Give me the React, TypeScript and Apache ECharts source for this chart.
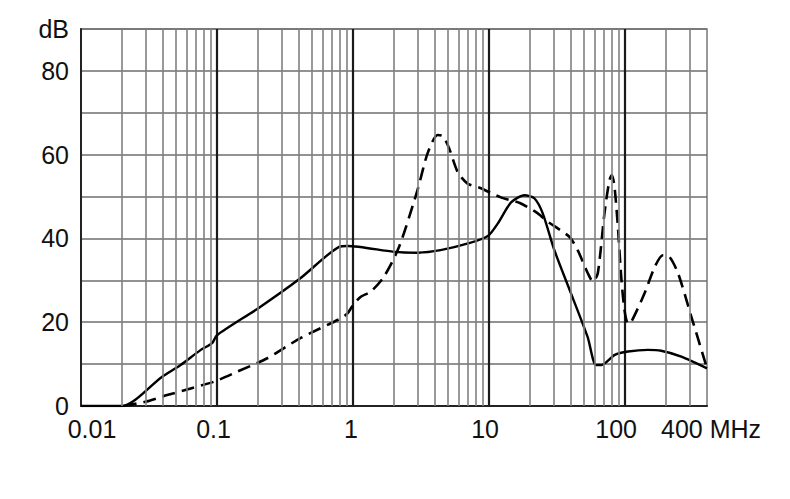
import * as echarts from "echarts";
import { useEffect, useRef } from "react";

// solid curve: frequency (MHz) and level (dB)
const solidFreq = [
  0.01, 0.02, 0.0395, 0.054, 0.076, 0.092, 0.1, 0.2, 0.41, 0.79, 0.91, 2.0,
  3.0, 4.4, 7.0, 9.8, 11.6, 14.5, 18.2, 21.5, 24.8, 30.2, 40, 53, 61, 67, 84,
  105, 147, 184, 259, 400,
];
const solidDb = [
  0, 0, 7.0, 9.8, 13.4, 15.0, 16.9, 23.3, 30.5, 38.0, 38.2, 36.8, 36.6, 37.2,
  38.8, 40.6, 43.6, 48.6, 50.3, 49.6, 46, 37.2, 26.9, 16.5, 9.8, 9.8, 12.2,
  13.0, 13.4, 13.2, 11.8, 9.0,
];

// dashed curve
const dashedFreq = [
  0.0206, 0.0297, 0.043, 0.064, 0.095, 0.141, 0.234, 0.41, 0.81, 0.91, 1.0,
  1.14, 1.35, 1.69, 2.18, 2.98, 3.53, 4.18, 4.58, 5.09, 5.87, 6.95, 8.7, 12.2,
  17, 22.8, 27, 38.9, 44.8, 53.2, 58, 63, 70.5, 76.7, 80, 83.6, 88.5, 93.6, 99,
  105, 111, 139, 165, 190, 212, 245, 307, 400,
];
const dashedDb = [
  0, 1.0, 2.6, 4.2, 5.8, 8.2, 11.4, 16.2, 20.9, 22.1, 24.1, 26.1, 27.3, 30.9,
  38.0, 51.6, 60.3, 64.7, 64.4, 61.5, 55.9, 53.1, 52.0, 49.8, 48.4, 46.0, 44,
  40.4, 37.2, 31.7, 29.7, 31.7, 46, 53.9, 55.1, 52.3, 42.8, 30.9, 22.9, 19.7,
  20.1, 26.9, 33.2, 36.0, 35.6, 31.7, 21.3, 9.0,
];

// axis ends and the extra (non-decade) grid lines
const xMin = 0.01;
const xMax = 400;
const yMax = 90;
const minorSteps = [2, 3, 4, 5, 6, 7, 8, 9];
const decades = [0.01, 0.1, 1, 10, 100];

const minorLines: number[] = [];
decades.forEach((d) =>
  minorSteps.forEach((s) => {
    const v = +(d * s).toPrecision(3);
    if (v < xMax) minorLines.push(v);
  }),
);

const FONT = "'Liberation Sans', Arial, sans-serif";

// per-label nudges so the tick texts sit like the original
const xLabelStyle: Record<string, any> = {
  a: { padding: [0, 0, 0, 22] },
  b: { padding: [0, 7, 0, 0] },
  c: { padding: [0, 4, 0, 0] },
  d: { padding: [0, 8, 0, 0] },
  e: { padding: [0, 18, 0, 0] },
  f: { padding: [0, 0, 0, 8] },
};

function xLabel(v: number) {
  if (v >= xMax * 0.99) return "{f|400 MHz}";
  if (Math.abs(v - 0.01) < 1e-6) return "{a|0.01}";
  if (Math.abs(v - 0.1) < 1e-6) return "{b|0.1}";
  if (Math.abs(v - 1) < 1e-6) return "{c|1}";
  if (Math.abs(v - 10) < 1e-6) return "{d|10}";
  if (Math.abs(v - 100) < 1e-6) return "{e|100}";
  return "";
}

function App() {
  const chartRef = useRef<HTMLDivElement>(null);

  useEffect(() => {
    if (!chartRef.current) return;
    const chart = echarts.init(chartRef.current, null, { renderer: "svg" });

    const textBase = {
      color: "#111",
      fontSize: 25,
      fontFamily: FONT,
    };

    chart.setOption({
      animation: false,
      backgroundColor: "#fff",
      grid: {
        left: 81,
        right: 83,
        top: 29,
        bottom: 93,
        show: true,
        borderColor: "#808080",
        borderWidth: 1.6,
      },
      xAxis: {
        type: "log",
        logBase: 10,
        min: xMin,
        max: xMax,
        axisLine: { show: true, lineStyle: { color: "#222", width: 2 } },
        axisTick: { show: false },
        axisLabel: {
          ...textBase,
          margin: 10,
          showMinLabel: true,
          showMaxLabel: true,
          formatter: xLabel,
          rich: Object.fromEntries(
            Object.entries(xLabelStyle).map(([k, s]) => [k, { ...textBase, ...s }]),
          ),
        },
        splitLine: {
          show: true,
          showMinLine: false,
          showMaxLine: false,
          lineStyle: { color: "#1a1a1a", width: 2.2 },
        },
      },
      yAxis: {
        type: "value",
        min: 0,
        max: yMax,
        interval: 10,
        axisLine: { show: true, lineStyle: { color: "#222", width: 2 } },
        axisTick: { show: false },
        axisLabel: {
          ...textBase,
          margin: 12,
          formatter: (v: number) =>
            v === yMax ? "dB" : v % 20 === 0 ? String(v) : "",
        },
        splitLine: {
          show: true,
          lineStyle: { color: "#6e6e6e", width: 1.6 },
        },
      },
      series: [
        {
          // carries the minor vertical grid lines
          type: "line",
          data: [],
          z: 1,
          silent: true,
          markLine: {
            silent: true,
            symbol: ["none", "none"],
            label: { show: false },
            lineStyle: { color: "#808080", width: 1.6, type: "solid" },
            data: minorLines.map((v) => ({ xAxis: v })),
          },
        },
        {
          name: "solid",
          type: "line",
          z: 3,
          symbol: "none",
          smooth: 0.25,
          data: solidFreq.map((f, i) => [f, solidDb[i]]),
          lineStyle: { color: "#000", width: 2.4 },
        },
        {
          name: "dashed",
          type: "line",
          z: 3,
          symbol: "none",
          smooth: 0.25,
          data: dashedFreq.map((f, i) => [f, dashedDb[i]]),
          lineStyle: { color: "#000", width: 2.6, type: [13, 7] },
        },
      ],
    });

    return () => {
      chart.dispose();
    };
  }, []);

  return (
    <div
      ref={chartRef}
      style={{
        position: "fixed",
        left: 0,
        top: 0,
        width: 790,
        height: 499,
        background: "#fff",
      }}
    />
  );
}

export default App;
